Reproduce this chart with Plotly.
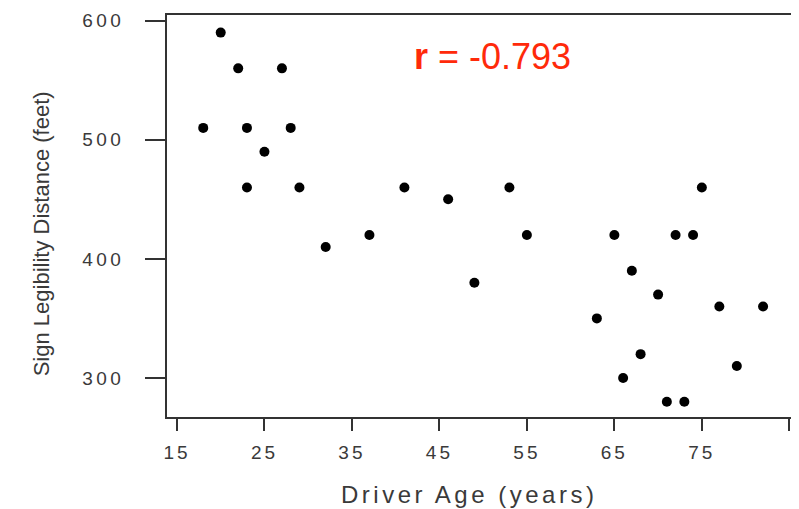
import plotly.graph_objects as go

age = [18, 20, 22, 23, 23, 25, 27, 28, 29, 32, 37, 41, 46, 49, 53, 55,
       63, 65, 66, 67, 68, 70, 71, 72, 73, 74, 75, 77, 79, 82]
distance = [510, 590, 560, 510, 460, 490, 560, 510, 460, 410, 420, 460, 450, 380, 460, 420,
            350, 420, 300, 390, 320, 370, 280, 420, 280, 420, 460, 360, 310, 360]
x_ticks = [15, 25, 35, 45, 55, 65, 75, 85]
y_ticks = [300, 400, 500, 600]
x_title = "Driver Age (years)"
y_title = "Sign Legibility Distance (feet)"
r_label = "r = -0.793"

FONT = "Liberation Sans, Arial, sans-serif"
GRAY = "#3a3a3a"


def spaced(t, sp):
    return f'<span style="letter-spacing:{sp}px">{t}</span>'


fig = go.Figure()
fig.add_trace(go.Scatter(
    x=age, y=distance, mode="markers",
    marker=dict(color="black", size=10, symbol="circle"),
    showlegend=False, hoverinfo="x+y",
))

axis_common = dict(
    showgrid=False, zeroline=False, showline=True, mirror=True,
    linecolor="#333333", linewidth=1.5, ticks="outside", tickcolor="#333333",
    tickwidth=1.5, tickfont=dict(family=FONT, size=19, color=GRAY),
)

fig.update_xaxes(
    range=[13.86, 85.65], tickvals=x_ticks,
    ticktext=[spaced(str(v), 3) for v in x_ticks],
    ticklen=12, ticklabelstandoff=5, **axis_common,
)
fig.update_yaxes(
    range=[267.2, 604.8], tickvals=y_ticks,
    ticktext=[spaced(str(v), 3.5) for v in y_ticks],
    ticklen=20, ticklabelstandoff=17, **axis_common,
)

fig.add_annotation(
    xref="paper", yref="paper", x=0.481, y=-0.1924,
    text=spaced(x_title, 3.5), showarrow=False,
    font=dict(family=FONT, size=24, color=GRAY),
    xanchor="center", yanchor="middle",
)
fig.add_annotation(
    xref="paper", yref="paper", x=-0.2004, y=0.4548,
    text=y_title, showarrow=False, textangle=-90,
    font=dict(family=FONT, size=22, color=GRAY),
    xanchor="center", yanchor="middle",
)
fig.add_annotation(
    xref="paper", yref="paper", x=0.519, y=0.896,
    text="<b>r</b>" + r_label[1:], showarrow=False,
    font=dict(family=FONT, size=36, color="#ff2a0a"),
    xanchor="center", yanchor="middle",
)

# page body has an 8px default margin; size the figure so the plot frame
# lands where the reference has it
fig.update_layout(
    width=791, height=501,
    margin=dict(l=159, r=4, t=7, b=92, autoexpand=False),
    paper_bgcolor="white", plot_bgcolor="white",
)

fig.write_html("out.html")
